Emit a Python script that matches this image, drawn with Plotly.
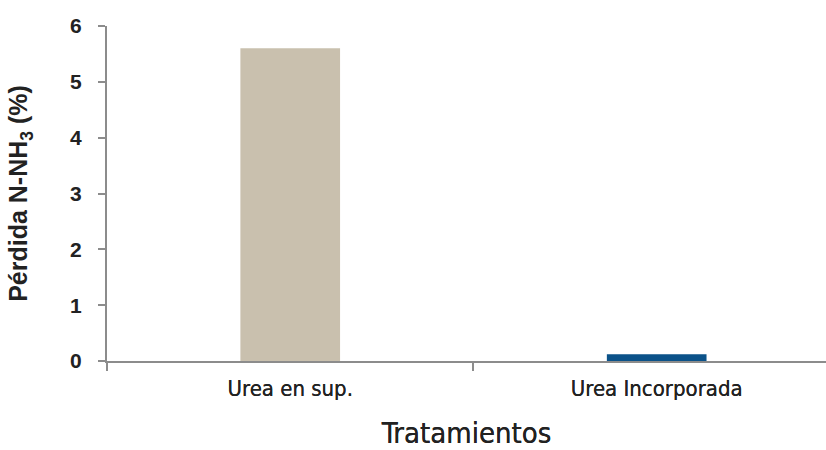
import plotly.graph_objects as go

# Tratamientos y pérdida de N-NH3 (%)
tratamientos = ["Urea en sup.", "Urea Incorporada"]
perdida = [5.6, 0.12]
colores = ["#C9C0AE", "#0B5289"]
y_ticks = [0, 1, 2, 3, 4, 5, 6]

fig = go.Figure(
    go.Bar(
        x=tratamientos,
        y=perdida,
        marker=dict(color=colores, line=dict(width=0)),
        width=0.272,
    )
)

axis_color = "#8C8C8C"
text_color = "#222222"
narrow = "Liberation Sans Narrow, DejaVu Sans Condensed, Arial Narrow, sans-serif"
sans = "Liberation Sans, Arial, sans-serif"
# slight halo to give the condensed labels a medium weight
medium = "0px 0px 0.6px #222222"

fig.update_layout(
    width=826,
    height=450,
    margin=dict(l=107, r=0, t=26, b=89),
    paper_bgcolor="white",
    plot_bgcolor="white",
    showlegend=False,
    xaxis=dict(
        type="category",
        range=[-0.5, 1.462],
        tickson="boundaries",
        ticks="outside",
        ticklen=8,
        tickwidth=1.5,
        tickcolor=axis_color,
        showline=True,
        linecolor=axis_color,
        linewidth=2,
        showgrid=False,
        ticklabelstandoff=7,
        tickfont=dict(family=narrow, size=22, color=text_color, shadow=medium),
        title=dict(
            text="Tratamientos",
            font=dict(family=narrow, size=29, color=text_color, shadow=medium),
            standoff=25,
        ),
    ),
    yaxis=dict(
        range=[0, 6],
        tickvals=y_ticks,
        ticks="outside",
        ticklen=7,
        tickwidth=1.5,
        tickcolor=axis_color,
        showline=True,
        linecolor=axis_color,
        linewidth=2,
        showgrid=False,
        zeroline=False,
        ticklabelstandoff=12,
        tickfont=dict(family=sans, size=21, color=text_color, weight="bold"),
        title=dict(
            text="Pérdida N-NH<sub>3</sub> (%)",
            font=dict(family=sans, size=25, color=text_color, weight="bold"),
            standoff=35,
        ),
    ),
)

fig.write_html("out.html")
